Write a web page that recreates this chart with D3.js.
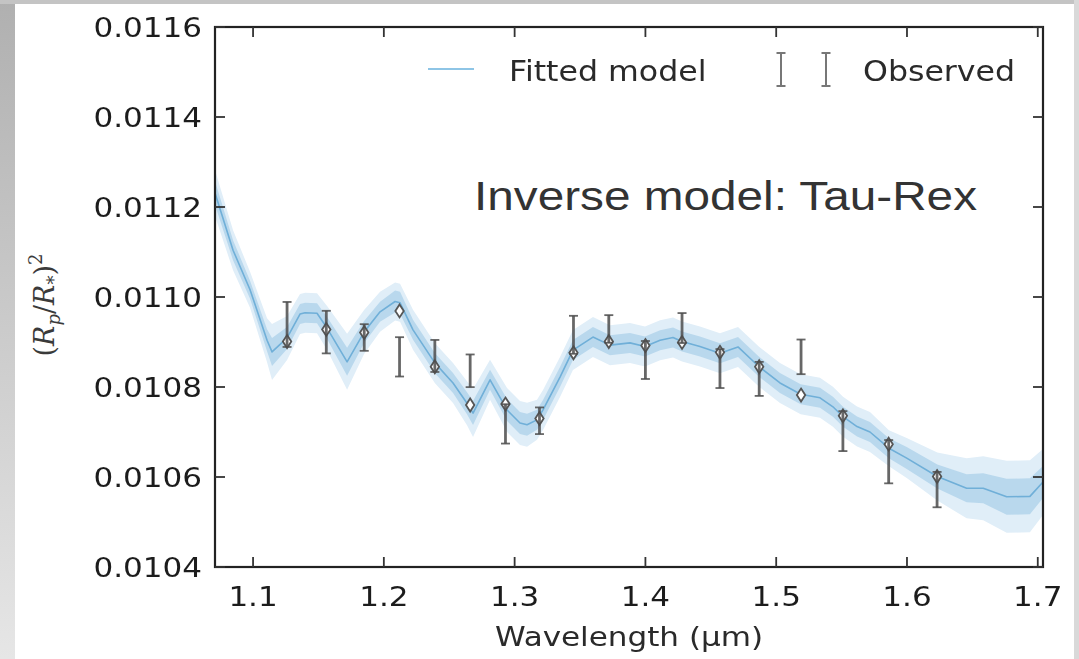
<!DOCTYPE html>
<html><head><meta charset="utf-8">
<script src="https://cdn.jsdelivr.net/npm/d3@7"></script>
<style>html,body{margin:0;padding:0;background:#fff;}svg{display:block;}</style>
</head><body>
<svg id="chart" width="1079" height="659"></svg>
<script>
// ---- data ----
const xTicks = [1.1, 1.2, 1.3, 1.4, 1.5, 1.6, 1.7];
const yTicks = [0.0104, 0.0106, 0.0108, 0.0110, 0.0112, 0.0114, 0.0116];
const modelWl = [1.0709,1.0847,1.0977,1.1107,1.1145,1.1260,1.1359,1.1398,1.1489,1.1566,1.1719,1.1849,1.1971,1.2086,1.2124,1.2223,1.2391,1.2529,1.2636,1.2682,1.2812,1.2942,1.3041,1.3095,1.3171,1.3217,1.3347,1.3446,1.3599,1.3729,1.3882,1.3997,1.4112,1.4211,1.4280,1.4417,1.4570,1.4708,1.4869,1.5029,1.5187,1.5335,1.5434,1.5511,1.5618,1.5717,1.5862,1.5998,1.6232,1.6456,1.6583,1.6762,1.6940,1.7040];
const modelDepth = [0.011231,0.011104,0.011016,0.010904,0.010878,0.010909,0.010962,0.010965,0.010964,0.010931,0.010856,0.010922,0.010967,0.010990,0.010987,0.010927,0.010853,0.010809,0.010764,0.010742,0.010816,0.010749,0.010720,0.010716,0.010727,0.010749,0.010822,0.010882,0.010911,0.010893,0.010898,0.010890,0.010904,0.010910,0.010901,0.010890,0.010875,0.010889,0.010845,0.010809,0.010784,0.010776,0.010756,0.010734,0.010712,0.010700,0.010664,0.010642,0.010601,0.010575,0.010575,0.010556,0.010557,0.010589];
// 1-sigma and 2-sigma half widths, in units of 1e-5
const sigma1 = [2.67,2.22,2.0,2.44,3.11,2.44,2.22,2.22,2.22,2.44,3.11,2.44,2.22,2.44,2.44,2.22,2.22,2.22,2.44,2.67,2.22,2.44,2.44,2.44,2.22,2.22,2.22,2.22,2.22,2.22,2.22,2.22,2.22,2.22,2.22,2.22,2.22,2.22,2.22,2.22,2.22,2.22,2.22,2.22,2.22,2.22,2.22,2.44,2.67,3.11,3.33,4.0,4.0,3.56];
const sigma2 = [5.11,4.44,4.0,4.89,6.22,4.89,4.44,4.44,4.44,4.89,6.22,4.89,4.44,4.22,4.22,4.44,4.44,4.44,4.89,5.33,4.44,4.89,4.89,4.89,4.44,4.44,4.44,4.44,4.44,4.44,4.44,4.44,4.44,4.44,4.44,4.44,4.44,4.44,4.44,4.44,4.44,4.44,4.44,4.44,4.44,4.44,4.0,4.44,5.33,6.67,7.11,8.0,8.0,7.33];
const obsWl = [1.126,1.156,1.185,1.212,1.239,1.266,1.293,1.319,1.345,1.372,1.400,1.428,1.457,1.487,1.519,1.551,1.586,1.623];
const obsDepth = [0.010939,0.010922,0.010910,0.010867,0.010869,0.010836,0.010718,0.010725,0.010916,0.010929,0.010860,0.010931,0.010841,0.010818,0.010867,0.010702,0.010634,0.010572];
const obsErr = [5.0,4.73,2.96,4.37,3.56,3.63,4.37,2.96,4.22,3.07,4.22,3.33,4.33,3.78,3.85,4.44,4.81,3.93]; // 1e-5
const binnedModel = [0.010901,0.010928,0.010921,0.010969,0.010845,0.010760,0.010762,0.010730,0.010876,0.010901,0.010892,0.010899,0.010877,0.010845,0.010782,0.010736,0.010673,0.010601];
const U = 1e-5;

// ---- layout ----
const L = 215, R = 1043, T = 27, B = 567;
const SX = 1.15; // horizontal stretch of text in the reference
const svg = d3.select("#chart");

const defs = svg.append("defs");
const g1 = defs.append("linearGradient").attr("id","lg").attr("x1",0).attr("y1",0).attr("x2",0).attr("y2",1);
g1.append("stop").attr("offset","0%").attr("stop-color","#b0b0b0");
g1.append("stop").attr("offset","100%").attr("stop-color","#e6e6e6");
defs.append("filter").attr("id","soft").append("feGaussianBlur").attr("stdDeviation",0.7);
defs.append("filter").attr("id","softT").append("feGaussianBlur").attr("stdDeviation",0.35);

svg.append("rect").attr("x",0).attr("y",0).attr("width",15).attr("height",659).attr("fill","url(#lg)");
svg.append("rect").attr("x",0).attr("y",0).attr("width",1079).attr("height",4).attr("fill","#c4c4c4");
svg.append("rect").attr("x",1074).attr("y",0).attr("width",5).attr("height",659).attr("fill","#d9d9d9");

defs.append("clipPath").attr("id","clip").append("rect").attr("x",L).attr("y",T).attr("width",R-L).attr("height",B-T);

const x = d3.scaleLinear().domain([1.0709, 1.7040]).range([L, R]);
const y = d3.scaleLinear().domain([0.0104, 0.0116]).range([B, T]);

const model = modelWl.map((w,i)=>({w, v:modelDepth[i], s1:sigma1[i]*U, s2:sigma2[i]*U}));
const plotOuter = svg.append("g").attr("clip-path","url(#clip)");
const plot = plotOuter.append("g").attr("filter","url(#soft)");

plot.append("path").datum(model)
  .attr("d", d3.area().x(d=>x(d.w)).y0(d=>y(d.v-d.s2)).y1(d=>y(d.v+d.s2)))
  .attr("fill","#e0eef8");
plot.append("path").datum(model)
  .attr("d", d3.area().x(d=>x(d.w)).y0(d=>y(d.v-d.s1)).y1(d=>y(d.v+d.s1)))
  .attr("fill","#b9d8ed");
plot.append("path").datum(model)
  .attr("d", d3.line().x(d=>x(d.w)).y(d=>y(d.v)))
  .attr("fill","none").attr("stroke","#6fafd8").attr("stroke-width",1.6).attr("stroke-linejoin","round");

// binned model markers (thin diamonds)
const obs = obsWl.map((w,i)=>({w, v:obsDepth[i], e:obsErr[i]*U, m:binnedModel[i]}));
plot.selectAll(".mk").data(obs).enter().append("path")
  .attr("d", d=>{const cx=x(d.w), cy=y(d.m); return `M${cx},${cy-6.5}L${cx+4.2},${cy}L${cx},${cy+6.5}L${cx-4.2},${cy}Z`;})
  .attr("fill","#fff").attr("stroke","#555").attr("stroke-width",1.8);

// error bars
const eb = plot.selectAll(".eb").data(obs).enter().append("g").attr("stroke","#4d4d4d").attr("stroke-opacity",0.85).attr("stroke-width",2.8);
eb.append("line").attr("x1",d=>x(d.w)).attr("x2",d=>x(d.w)).attr("y1",d=>y(d.v+d.e)).attr("y2",d=>y(d.v-d.e));
eb.append("line").attr("x1",d=>x(d.w)-4.5).attr("x2",d=>x(d.w)+4.5).attr("y1",d=>y(d.v+d.e)).attr("y2",d=>y(d.v+d.e)).attr("stroke-width",1.8);
eb.append("line").attr("x1",d=>x(d.w)-4.5).attr("x2",d=>x(d.w)+4.5).attr("y1",d=>y(d.v-d.e)).attr("y2",d=>y(d.v-d.e)).attr("stroke-width",1.8);

// axes: frame + inward ticks on all sides
svg.append("rect").attr("x",L).attr("y",T).attr("width",R-L).attr("height",B-T).attr("fill","none").attr("stroke","#222").attr("stroke-width",2.2);
const tk = svg.append("g").attr("stroke","#333").attr("stroke-width",1.8);
xTicks.forEach(t=>{
  tk.append("line").attr("x1",x(t)).attr("x2",x(t)).attr("y1",B).attr("y2",B-10);
  tk.append("line").attr("x1",x(t)).attr("x2",x(t)).attr("y1",T).attr("y2",T+10);
});
yTicks.forEach(t=>{
  tk.append("line").attr("x1",L).attr("x2",L+10).attr("y1",y(t)).attr("y2",y(t));
  tk.append("line").attr("x1",R).attr("x2",R-10).attr("y1",y(t)).attr("y2",y(t));
});

function stext(px, py, str, anchor, size, family, fill){
  return svg.append("text").attr("transform",`translate(${px},${py}) scale(${SX},1)`)
    .attr("text-anchor",anchor).attr("font-family",family||"DejaVu Sans").attr("font-size",size||27)
    .attr("fill",fill||"#1e1e1e").attr("filter","url(#softT)").text(str);
}
const fmtX = d3.format(".1f"), fmtY = d3.format(".4f");
xTicks.forEach(t=> stext(x(t), 606, fmtX(t), "middle"));
yTicks.forEach(t=> stext(202, y(t)+10, fmtY(t), "end"));

stext((L+R)/2, 646, "Wavelength (\u03bcm)", "middle", 27, "DejaVu Sans", "#2a2a2a");

// y label (R_p/R_*)^2
const yl = svg.append("text").attr("transform","translate(54,305) rotate(-90)")
  .attr("text-anchor","middle").attr("font-family","DejaVu Serif").attr("font-size",27).attr("fill","#3a3a3a");
yl.append("tspan").text("(");
yl.append("tspan").attr("font-style","italic").text("R");
yl.append("tspan").attr("font-style","italic").attr("font-size",18).attr("dy",6).text("p");
yl.append("tspan").attr("dy",-6).text("/");
yl.append("tspan").attr("font-style","italic").text("R");
yl.append("tspan").attr("font-size",18).attr("dy",6).text("*");
yl.append("tspan").attr("dy",-6).text(")");
yl.append("tspan").attr("font-size",18).attr("dy",-12).text("2");

// legend
svg.append("line").attr("x1",428).attr("x2",474).attr("y1",69).attr("y2",69).attr("stroke","#8ec5e6").attr("stroke-width",2);
stext(509, 81, "Fitted model", "start", 27.5, "DejaVu Sans", "#2a2a2a");
[781, 826].forEach(cx=>{
  const g = svg.append("g").attr("stroke","#777").attr("stroke-width",2);
  g.append("line").attr("x1",cx).attr("x2",cx).attr("y1",53).attr("y2",86);
  g.append("line").attr("x1",cx-4.5).attr("x2",cx+4.5).attr("y1",53).attr("y2",53);
  g.append("line").attr("x1",cx-4.5).attr("x2",cx+4.5).attr("y1",86).attr("y2",86);
});
stext(863, 81, "Observed", "start", 27.5, "DejaVu Sans", "#2a2a2a");

// annotation
svg.append("text").attr("x",474).attr("y",210).attr("font-family","Liberation Sans, Arial, sans-serif")
  .attr("font-size",40).attr("fill","#333").attr("textLength",503).attr("lengthAdjust","spacingAndGlyphs")
  .text("Inverse model: Tau-Rex");
</script>
</body></html>
